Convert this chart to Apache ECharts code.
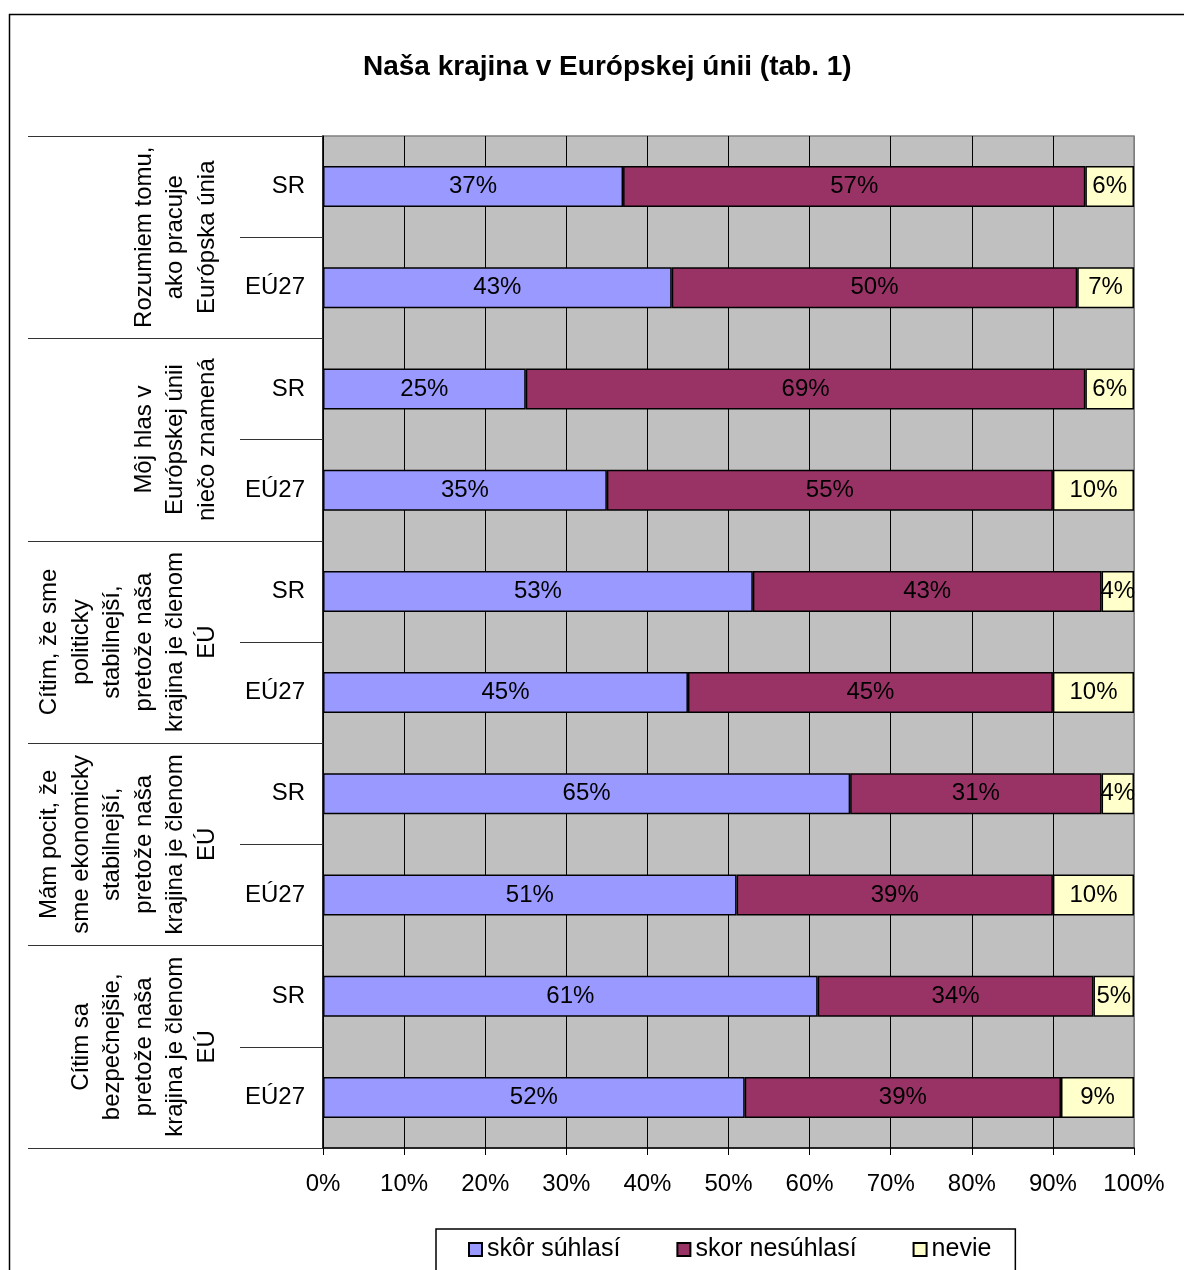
<!DOCTYPE html>
<html>
<head>
<meta charset="utf-8">
<script src="https://cdn.jsdelivr.net/npm/echarts@6/dist/echarts.min.js"></script>
<style>
html,body{margin:0;padding:0;background:#fff;}
#chart{width:1184px;height:1270px;}
</style>
</head>
<body>
<div id="chart"></div>
<script>
const titleText = 'Naša krajina v Európskej únii (tab. 1)';
const rowLabels = ['SR','EÚ27','SR','EÚ27','SR','EÚ27','SR','EÚ27','SR','EÚ27'];
const groupLabels = [
  'Rozumiem tomu,\nako pracuje\nEurópska únia',
  'Môj hlas v\nEurópskej únii\nniečo znamená',
  'Cítim, že sme\npoliticky\nstabilnejší,\npretože naša\nkrajina je členom\nEÚ',
  'Mám pocit, že\nsme ekonomicky\nstabilnejší,\npretože naša\nkrajina je členom\nEÚ',
  'Cítim sa\nbezpečnejšie,\npretože naša\nkrajina je členom\nEÚ'
];
const seriesNames = ['skôr súhlasí','skor nesúhlasí','nevie'];
const agree    = [37,43,25,35,53,45,65,51,61,52];
const disagree = [57,50,69,55,43,45,31,39,34,39];
const dunno    = [6,7,6,10,4,10,4,10,5,9];
const xTicks = [0,10,20,30,40,50,60,70,80,90,100];

const colors = ['#9999FF','#993366','#FFFFCC'];
const FONT = '"Liberation Sans", Arial, sans-serif';

const chart = echarts.init(document.getElementById('chart'), null, {renderer:'canvas'});

function mkSeries(name, data, color){
  return {
    name: name,
    type: 'bar',
    stack: 'total',
    yAxisIndex: 0,
    barWidth: 41,
    data: data,
    itemStyle: {color: color, borderColor: '#000', borderWidth: 1.5},
    label: {
      show: true,
      position: 'inside',
      formatter: '{c}%',
      color: '#000',
      fontSize: 24,
      fontFamily: FONT
    },
    emphasis: {disabled: true}
  };
}

const option = {
  animation: false,
  backgroundColor: '#fff',
  title: {
    text: titleText,
    left: 358,
    top: 48,
    textStyle: {fontSize: 28, fontWeight: 'bold', color: '#000', fontFamily: FONT}
  },
  graphic: [{
    type: 'rect',
    shape: {x: 9.5, y: 14.5, width: 1300, height: 1400},
    style: {fill: 'none', stroke: '#000', lineWidth: 1.5},
    silent: true,
    z: -10
  }],
  legend: {
    left: 436,
    top: 1229,
    padding: [8, 24, 40, 32],
    itemGap: 56,
    itemWidth: 13,
    itemHeight: 13,
    icon: 'rect',
    borderColor: '#000',
    borderWidth: 1.5,
    backgroundColor: '#fff',
    textStyle: {fontSize: 25, color: '#000', fontFamily: FONT},
    data: seriesNames
  },
  grid: {
    left: 323, top: 136, width: 811, height: 1012,
    show: true,
    backgroundColor: '#C0C0C0',
    borderColor: '#808080',
    borderWidth: 1.5
  },
  xAxis: {
    type: 'value',
    min: xTicks[0],
    max: xTicks[xTicks.length-1],
    interval: 10,
    axisLine: {show: true, onZero: false, lineStyle: {color: '#000', width: 1.5}},
    axisTick: {show: true, length: 7, lineStyle: {color: '#000'}},
    axisLabel: {formatter: '{value}%', fontSize: 24, color: '#000', margin: 24, fontFamily: FONT},
    splitLine: {show: true, lineStyle: {color: ['#000','#000','#000','#000','#000','#000','#000','#000','#000','#000','#808080'], width: 1}}
  },
  yAxis: [{
    type: 'category',
    data: rowLabels,
    inverse: true,
    position: 'left',
    axisLine: {show: true, lineStyle: {color: '#000', width: 1.5}},
    axisTick: {show: true, length: 83, alignWithLabel: false, lineStyle: {color: '#333', width: 1.2}},
    axisLabel: {fontSize: 24, color: '#000', margin: 18, fontFamily: FONT},
    splitLine: {show: false}
  }, {
    type: 'category',
    data: groupLabels,
    inverse: true,
    position: 'left',
    offset: 0,
    axisLine: {show: false},
    axisTick: {show: true, length: 295, alignWithLabel: false, lineStyle: {color: '#333', width: 1.2}},
    axisLabel: {
      rotate: 90,
      align: 'center',
      verticalAlign: 'bottom',
      margin: 100,
      fontSize: 24,
      lineHeight: 31.5,
      color: '#000',
      fontFamily: FONT,
      interval: 0
    },
    splitLine: {show: false}
  }],
  series: [
    mkSeries(seriesNames[0], agree, colors[0]),
    mkSeries(seriesNames[1], disagree, colors[1]),
    mkSeries(seriesNames[2], dunno, colors[2])
  ]
};
chart.setOption(option);
</script>
</body>
</html>
